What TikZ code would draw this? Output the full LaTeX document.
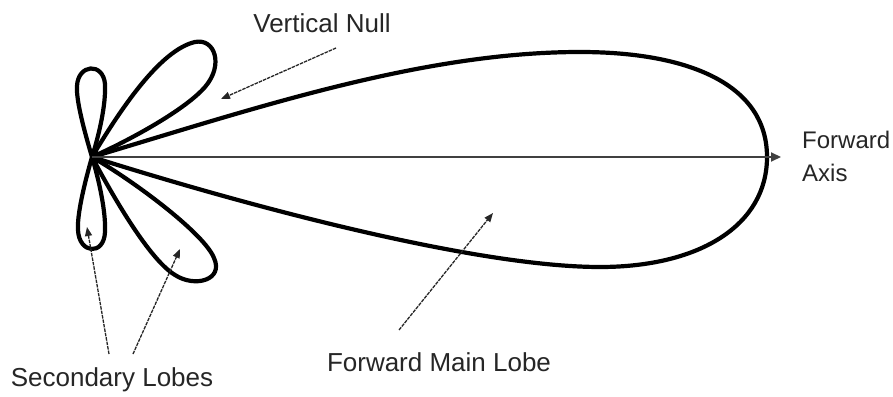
\documentclass[tikz,border=0pt]{standalone}
\usepackage{fontspec}
\setmainfont{Liberation Sans}
\usetikzlibrary{arrows.meta}
\tikzset{
  lobe/.style={line width=4.2pt, line join=round, black},
  axisline/.style={line width=2pt, draw=black!75, -{Triangle[length=10pt,width=9pt]}},
  pointer/.style={line width=1.3pt, draw=black!85, dash pattern=on 3.5pt off 1pt, -{Triangle[length=9pt,width=7pt]}},
  lbl/.style={font=\fontsize{26}{33}\selectfont, text=black!85, inner sep=0pt},
  lblsmall/.style={font=\fontsize{24}{33}\selectfont, text=black!85, inner sep=0pt},
}
\begin{document}
\begin{tikzpicture}[x=1pt,y=-1pt]
\useasboundingbox (0,0) rectangle (893,396);
\fill[white] (0,0) rectangle (893,396);
\coordinate (O) at (92,157);
\coordinate (axEnd) at (781,157);
% main lobe
\draw[lobe] (O) .. controls (250,110) and (420,52) .. (580,52)
  .. controls (690,52) and (767,85) .. (767,157)
  .. controls (767,225) and (700,267) .. (600,267)
  .. controls (480,267) and (260,210) .. (O);
% upper tall lobe
\draw[lobe] (O) .. controls (84,130) and (76,100) .. (77,86)
  .. controls (78,64) and (103,62) .. (105,84)
  .. controls (106,105) and (99,135) .. (O);
% lower tall lobe
\draw[lobe] (O) .. controls (84,185) and (77,215) .. (78,230)
  .. controls (79,254) and (104,256) .. (105,232)
  .. controls (106,212) and (99,180) .. (O);
% upper tilted lobe
\draw[lobe] (O) .. controls (120,110) and (160,50) .. (195,42)
  .. controls (215,38) and (224,65) .. (205,87)
  .. controls (185,110) and (130,140) .. (O);
% lower tilted lobe
\draw[lobe] (O) .. controls (115,200) and (150,260) .. (175,275)
  .. controls (195,288) and (224,280) .. (214,258)
  .. controls (205,235) and (140,185) .. (O);
% forward axis
\draw[axisline] (O) -- (axEnd);
% labels
\node[lbl] (vn) at (322,23) {Vertical Null};
\node[lblsmall, align=left, anchor=north west] (fa) at (802,131) {Forward\\Axis};
\node[lbl] (sl) at (112,380) {Secondary Lobes};
\node[lbl] (fml) at (439,362) {Forward Main Lobe};
% pointer ends
\coordinate (vnS) at (336,48);
\coordinate (vnT) at (221,99);
\coordinate (sl1S) at (109,354);
\coordinate (sl1T) at (87,227);
\coordinate (sl2S) at (133,354);
\coordinate (sl2T) at (180,249);
\coordinate (fmlS) at (399,330);
\coordinate (fmlT) at (493,213);
\draw[pointer] (vnS) -- (vnT);
\draw[pointer] (sl1S) -- (sl1T);
\draw[pointer] (sl2S) -- (sl2T);
\draw[pointer] (fmlS) -- (fmlT);
\end{tikzpicture}
\end{document}
